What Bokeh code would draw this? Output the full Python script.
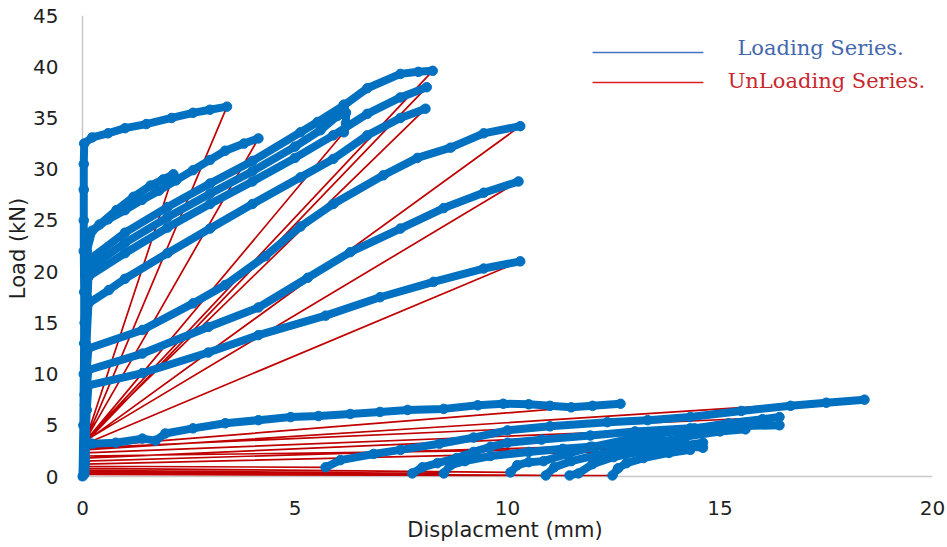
from bokeh.plotting import figure
from bokeh.models import Range1d, FixedTicker, Span, Label, Arrow
from bokeh.embed import file_html
from bokeh.resources import INLINE

# ---------------- data ----------------
x_ticks = [0, 5, 10, 15, 20]
y_ticks = [0, 5, 10, 15, 20, 25, 30, 35, 40, 45]

# upper cycles: climb at x~0 followed by the loading curve
c1_x = [0.00, 0.02, 0.03, 0.05, 0.08, 0.14, 0.40, 0.80, 1.20, 1.60, 1.90, 2.14]
c1_y = [0.0, 5.0, 10.0, 15.0, 19.5, 23.7, 24.6, 26.0, 27.3, 28.4, 29.0, 29.5]

c2_x = [0.07, 0.06, 0.06, 0.08, 0.10, 0.23, 0.60, 1.00, 1.40, 1.80, 2.20, 2.60, 3.00, 3.36, 3.80, 4.14]
c2_y = [3.5, 8.0, 13.0, 18.0, 22.0, 24.0, 25.1, 26.0, 27.0, 27.9, 28.9, 29.9, 30.9, 31.8, 32.5, 33.0]

c3_x = [0.08, 0.05, 0.04, 0.04, 0.03, 0.03, 0.03, 0.03, 0.04, 0.23, 0.60, 1.00, 1.50, 2.10, 2.60, 3.00, 3.40]
c3_y = [3.6, 8.0, 13.0, 18.0, 22.0, 25.0, 28.0, 30.5, 32.5, 33.1, 33.5, 34.0, 34.4, 35.0, 35.5, 35.8, 36.1]

c4_x = [0.07, 0.06, 0.07, 0.10, 0.14, 1.00, 2.00, 3.00, 4.00, 5.00, 5.60, 6.00, 6.15, 6.20, 6.20, 6.15]
c4_y = [3.4, 8.0, 13.0, 17.0, 20.3, 22.8, 25.3, 27.6, 29.8, 32.2, 33.8, 35.2, 36.3, 35.5, 34.5, 33.6]

c5_x = [0.08, 0.07, 0.08, 0.10, 0.14, 1.00, 2.00, 3.00, 4.00, 5.00, 5.90, 6.70, 7.48, 8.10]
c5_y = [3.5, 8.0, 12.0, 16.0, 19.5, 21.8, 24.3, 26.6, 28.8, 31.1, 33.3, 35.4, 37.0, 38.0]

c6_x = [0.07, 0.06, 0.07, 0.10, 0.14, 1.00, 2.00, 3.00, 4.00, 5.13, 5.53, 6.14, 6.70, 7.48, 7.90, 8.24]
c6_y = [3.3, 8.0, 13.0, 17.5, 21.1, 23.8, 26.3, 28.6, 30.8, 33.6, 34.6, 36.2, 37.9, 39.3, 39.5, 39.6]

c7_x = [0.07, 0.06, 0.08, 0.14, 0.62, 1.00, 2.00, 3.00, 4.00, 5.13, 5.90, 6.70, 7.48, 8.07]
c7_y = [3.5, 7.0, 12.0, 16.9, 18.2, 19.3, 21.8, 24.2, 26.6, 29.2, 31.0, 33.3, 35.0, 35.9]

c8_x = [0.07, 0.06, 0.10, 0.14, 1.41, 2.60, 3.36, 4.30, 5.13, 5.90, 7.08, 7.88, 8.66, 9.44, 10.30]
c8_y = [3.6, 7.0, 10.5, 12.5, 14.3, 16.9, 18.7, 21.5, 24.4, 26.6, 29.4, 31.1, 32.1, 33.5, 34.2]

c9_x = [0.07, 0.06, 0.14, 1.41, 2.96, 4.14, 5.30, 6.30, 7.48, 8.50, 9.44, 10.26]
c9_y = [3.4, 7.0, 10.4, 12.0, 14.6, 16.5, 19.4, 21.9, 24.2, 26.2, 27.7, 28.8]

c10_x = [0.07, 0.10, 0.14, 1.41, 2.96, 4.14, 5.72, 7.00, 8.26, 9.44, 10.30]
c10_y = [3.5, 6.5, 8.9, 10.1, 12.1, 13.8, 15.7, 17.5, 19.0, 20.3, 21.0]

c11_x = [0.07, 0.23, 0.78, 1.41, 1.72, 1.95, 2.60, 3.36, 4.14, 4.90, 5.55, 6.30, 7.00, 7.65,
         8.50, 9.30, 9.90, 10.50, 11.00, 11.50, 12.00, 12.66]
c11_y = [3.2, 3.2, 3.3, 3.7, 3.5, 4.2, 4.7, 5.2, 5.5, 5.8, 5.9, 6.1, 6.3, 6.5,
         6.6, 6.95, 7.1, 7.05, 6.9, 6.75, 6.9, 7.1]

# lower (post-peak) cycles: return points at x~0, then reloading
r1_x = [0.05, 0.04]
r1_y = [2.9, 1.0]
k1_x = [5.72, 6.07, 6.85, 7.48, 8.40, 9.20, 10.00, 11.00, 12.35, 13.30, 14.30, 15.50, 16.66, 17.50, 18.40]
k1_y = [0.9, 1.6, 2.2, 2.6, 3.2, 3.8, 4.5, 4.9, 5.3, 5.5, 5.8, 6.4, 6.9, 7.2, 7.5]

r2_x = [0.05, 0.04]
r2_y = [2.6, 0.6]
k2_x = [7.76, 8.00, 8.35, 8.80, 9.20, 9.60, 10.00, 10.80, 11.95, 13.00, 14.30, 15.30, 16.40]
k2_y = [0.3, 0.9, 1.3, 1.8, 2.4, 2.9, 3.3, 3.6, 4.0, 4.4, 4.7, 4.9, 5.0]

r3_x = [0.05, 0.04]
r3_y = [2.3, 0.5]
k3_x = [8.50, 8.66, 9.00, 9.60, 10.50, 11.30, 11.95, 12.80, 13.50, 14.10, 14.60]
k3_y = [0.3, 1.1, 1.5, 2.0, 2.4, 2.7, 2.9, 3.2, 3.5, 3.0, 2.8]

r4_x = [0.05, 0.04]
r4_y = [2.0, 0.8]
k4_x = [10.07, 10.23, 10.50, 10.85, 11.40, 12.00, 12.80, 13.60, 14.40, 15.20, 16.00, 16.40]
k4_y = [0.4, 1.1, 1.4, 1.5, 2.2, 2.9, 3.6, 4.2, 4.7, 5.2, 5.6, 5.8]

r5_x = [0.05, 0.04]
r5_y = [2.8, 0.4]
k5_x = [10.90, 11.10, 11.50, 12.10, 12.80, 13.50, 14.20, 15.00, 15.60]
k5_y = [0.1, 0.9, 1.5, 2.1, 2.7, 3.3, 3.9, 4.4, 4.6]

r6_x = [0.05, 0.04]
r6_y = [1.8, 0.3]
k6_x = [11.46, 11.67, 12.00, 12.50, 13.20, 13.90, 14.60]
k6_y = [0.1, 0.3, 1.2, 1.9, 2.5, 2.9, 3.3]

r7_x = [0.05, 0.04]
r7_y = [1.5, 0.2]
k7_x = [12.47, 12.60, 12.80, 13.20, 13.80, 14.30]
k7_y = [0.1, 0.8, 1.3, 1.8, 2.3, 2.6]

r8_x = [0.05]
r8_y = [1.2]

# order in which the test recorded the pieces
pieces = [
    (c1_x, c1_y), (c2_x, c2_y), (c3_x, c3_y), (c4_x, c4_y), (c5_x, c5_y),
    (c6_x, c6_y), (c7_x, c7_y), (c8_x, c8_y), (c9_x, c9_y), (c10_x, c10_y),
    (c11_x, c11_y),
    (r1_x, r1_y), (k1_x, k1_y), (r2_x, r2_y), (k2_x, k2_y), (r3_x, r3_y), (k3_x, k3_y),
    (r4_x, r4_y), (k4_x, k4_y), (r5_x, r5_y), (k5_x, k5_y), (r6_x, r6_y), (k6_x, k6_y),
    (r7_x, r7_y), (k7_x, k7_y), (r8_x, r8_y),
]

seq_x, seq_y = [], []
for px_, py_ in pieces:
    seq_x += px_
    seq_y += py_

BLUE = "#0070C0"
RED = "#C00000"
TXT = "#1F1F1F"

p = figure(width=947, height=547, output_backend="svg", toolbar_location=None,
           x_range=Range1d(-0.1176, 20.0), y_range=Range1d(-0.488, 45.0),
           min_border_left=77, min_border_right=15, min_border_top=15, min_border_bottom=66)
p.outline_line_color = None
p.background_fill_color = "white"
p.border_fill_color = "white"
p.xgrid.grid_line_color = None
p.ygrid.grid_line_color = None

# axis lines
p.add_layout(Span(location=0, dimension="width", line_color="#C8C8C8", line_width=1.5, level="underlay"))
p.add_layout(Span(location=0, dimension="height", line_color="#C8C8C8", line_width=1.5, level="underlay"))

# unloading / connecting line (red), then loading bands and markers (blue)
p.line(seq_x, seq_y, line_color=RED, line_width=1.7)
p.multi_line(xs=[list(a) for a, b in pieces], ys=[list(b) for a, b in pieces],
             line_color=BLUE, line_width=8, line_cap="round", line_join="round")
p.scatter(seq_x, seq_y, size=9.5, fill_color=BLUE, line_color=BLUE)

for ax in (p.xaxis, p.yaxis):
    ax.axis_line_color = None
    ax.major_tick_line_color = None
    ax.minor_tick_line_color = None
    ax.major_label_text_font = "DejaVu Sans"
    ax.major_label_text_font_size = "20px"
    ax.major_label_text_color = TXT
    ax.axis_label_text_font = "DejaVu Sans"
    ax.axis_label_text_font_size = "21px"
    ax.axis_label_text_font_style = "normal"
    ax.axis_label_text_color = TXT

p.xaxis.ticker = FixedTicker(ticks=x_ticks)
p.yaxis.ticker = FixedTicker(ticks=y_ticks)
p.xaxis.major_label_standoff = 13
p.yaxis.major_label_standoff = 13
p.xaxis.axis_label = "Displacment (mm)"
p.yaxis.axis_label = "Load (kN)"
p.xaxis.axis_label_standoff = 0
p.yaxis.axis_label_standoff = 0

# legend
p.add_layout(Arrow(end=None, x_start=12.0, y_start=41.39, x_end=14.61, y_end=41.39,
                   line_color="#4472C4", line_width=1.5))
p.add_layout(Arrow(end=None, x_start=12.0, y_start=38.46, x_end=14.61, y_end=38.46,
                   line_color="#D82020", line_width=1.5))
p.add_layout(Label(x=15.41, y=41.78, text="Loading Series.", text_font="DejaVu Serif",
                   text_font_size="21px", text_color="#4468AE", text_baseline="alphabetic"))
p.add_layout(Label(x=15.18, y=38.56, text="UnLoading Series.", text_font="DejaVu Serif",
                   text_font_size="21px", text_color="#C8282D", text_baseline="alphabetic"))

open("out.html", "w").write(file_html(p, INLINE))
